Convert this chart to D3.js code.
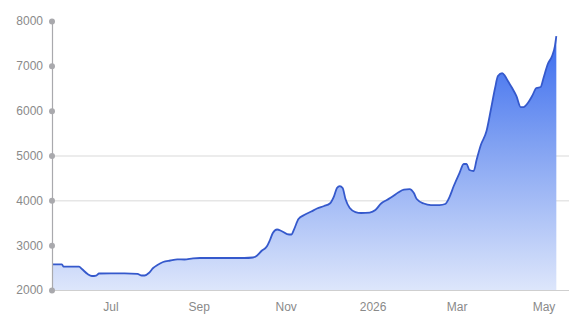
<!DOCTYPE html>
<html>
<head>
<meta charset="utf-8">
<script src="https://cdn.jsdelivr.net/npm/d3@7"></script>
<style>
  html, body { margin: 0; padding: 0; background: #fff; }
  svg { display: block; font-family: Roboto, "Noto Sans", sans-serif; }
</style>
</head>
<body>
<svg id="chart" width="569" height="320"></svg>
<script>
// Daily closing series (date, price)
const dates = [
  "2025-05-21","2025-05-28","2025-05-29","2025-06-09","2025-06-11","2025-06-15","2025-06-18","2025-06-21","2025-06-23",
  "2025-07-01","2025-07-11","2025-07-20","2025-07-23","2025-07-25","2025-07-28","2025-07-31","2025-08-03","2025-08-07",
  "2025-08-12","2025-08-17","2025-08-22","2025-08-28","2025-09-02","2025-09-12","2025-09-23","2025-10-03","2025-10-09",
  "2025-10-12","2025-10-15","2025-10-19","2025-10-21","2025-10-23","2025-10-26","2025-10-29","2025-11-02","2025-11-05",
  "2025-11-07","2025-11-10","2025-11-14","2025-11-19","2025-11-23","2025-11-28","2025-12-02","2025-12-05","2025-12-07",
  "2025-12-09","2025-12-11","2025-12-13","2025-12-16","2025-12-20","2025-12-24","2025-12-30","2026-01-03","2026-01-07",
  "2026-01-11","2026-01-15","2026-01-19","2026-01-23","2026-01-27","2026-01-30","2026-02-01","2026-02-06","2026-02-11",
  "2026-02-17","2026-02-21","2026-02-24","2026-02-27","2026-03-03","2026-03-06","2026-03-08","2026-03-10","2026-03-13",
  "2026-03-15","2026-03-18","2026-03-22","2026-03-25","2026-03-28","2026-03-30","2026-04-02","2026-04-04","2026-04-06",
  "2026-04-09","2026-04-12","2026-04-15","2026-04-17","2026-04-20","2026-04-23","2026-04-26","2026-04-29","2026-05-01",
  "2026-05-04","2026-05-07","2026-05-09","2026-05-10"
];
const prices = [
  2570,2570,2524,2520,2468,2357,2312,2323,2368,
  2372,2372,2361,2323,2323,2379,2490,2557,2624,
  2658,2685,2680,2707,2714,2714,2714,2714,2725,
  2770,2870,2981,3115,3271,3349,3316,3249,3238,
  3360,3583,3673,3751,3817,3873,3929,4096,4275,
  4319,4275,4029,3829,3739,3717,3728,3784,3929,
  4007,4085,4174,4241,4252,4163,4029,3929,3895,
  3895,3918,4074,4319,4609,4810,4810,4676,4654,
  4899,5234,5546,6014,6505,6772,6839,6772,6661,
  6505,6326,6081,6081,6170,6326,6505,6527,6728,
  7040,7218,7441,7660
];
const yTicks = [2000, 3000, 4000, 5000, 6000, 7000, 8000];
const gridValues = [4000, 5000];
const xTickDates = ["2025-07-01","2025-09-01","2025-11-01","2026-01-01","2026-03-01","2026-05-01"];
const xTickLabels = ["Jul","Sep","Nov","2026","Mar","May"];

const parse = d3.timeParse("%Y-%m-%d");
const series = dates.map((d, i) => ({ date: parse(d), value: prices[i] }));

const svg = d3.select("#chart");
const W = 569, H = 320;
const margin = { top: 21, right: 1, bottom: 30, left: 52 };

const x = d3.scaleTime()
  .domain([parse("2025-05-21"), parse("2026-05-21")])
  .range([margin.left, 572]);
const y = d3.scaleLinear()
  .domain([2000, 8000])
  .range([H - margin.bottom, margin.top]);

// Fill gradient: saturated blue at the top fading to pale at the baseline
const defs = svg.append("defs");
const grad = defs.append("linearGradient")
  .attr("id", "fillGrad")
  .attr("gradientUnits", "userSpaceOnUse")
  .attr("x1", 0).attr("x2", 0)
  .attr("y1", y(8000)).attr("y2", y(2000));
grad.append("stop").attr("offset", "0%").attr("stop-color", "#2f63ee");
grad.append("stop").attr("offset", "45%").attr("stop-color", "#7fa0f2");
grad.append("stop").attr("offset", "100%").attr("stop-color", "#dde6fb");

// Horizontal grid lines
svg.append("g").selectAll("line")
  .data(gridValues)
  .join("line")
  .attr("x1", margin.left).attr("x2", W)
  .attr("y1", d => y(d) + 0.5).attr("y2", d => y(d) + 0.5)
  .attr("stroke", "#e6e6e6").attr("stroke-width", 1.5);

// Area + line
const area = d3.area()
  .x(d => x(d.date))
  .y0(y(2000))
  .y1(d => y(d.value))
  .curve(d3.curveMonotoneX);
const line = d3.line()
  .x(d => x(d.date))
  .y(d => y(d.value))
  .curve(d3.curveMonotoneX);

svg.append("path")
  .datum(series)
  .attr("d", area)
  .attr("fill", "url(#fillGrad)");

svg.append("path")
  .datum(series)
  .attr("d", line)
  .attr("fill", "none")
  .attr("stroke", "#3559cc")
  .attr("stroke-width", 1.8)
  .attr("stroke-linejoin", "round");

// Bottom axis
const xAxis = d3.axisBottom(x)
  .tickValues(xTickDates.map(parse))
  .tickFormat((d, i) => xTickLabels[i])
  .tickSize(0)
  .tickPadding(12);
const gx = svg.append("g")
  .attr("transform", `translate(0,${y(2000)})`)
  .call(xAxis);
gx.select(".domain").remove();
gx.append("line")
  .attr("x1", margin.left).attr("x2", W)
  .attr("y1", 0.5).attr("y2", 0.5)
  .attr("stroke", "#cfcfcf");
gx.selectAll("text")
  .attr("fill", "#8a8a8a")
  .style("font-size", "12px");

// Left axis with dot markers
const yAxis = d3.axisLeft(y)
  .tickValues(yTicks)
  .tickFormat(d3.format("d"))
  .tickSize(0)
  .tickPadding(9);
const gy = svg.append("g")
  .attr("transform", `translate(${margin.left},0)`)
  .call(yAxis);
gy.select(".domain")
  .attr("stroke", "#a9a9ad")
  .attr("stroke-width", 1.2);
gy.selectAll(".tick").append("circle")
  .attr("r", 3)
  .attr("fill", "#a9a9ad");
gy.selectAll("text")
  .attr("fill", "#8a8a8a")
  .style("font-size", "12px");
</script>
</body>
</html>
